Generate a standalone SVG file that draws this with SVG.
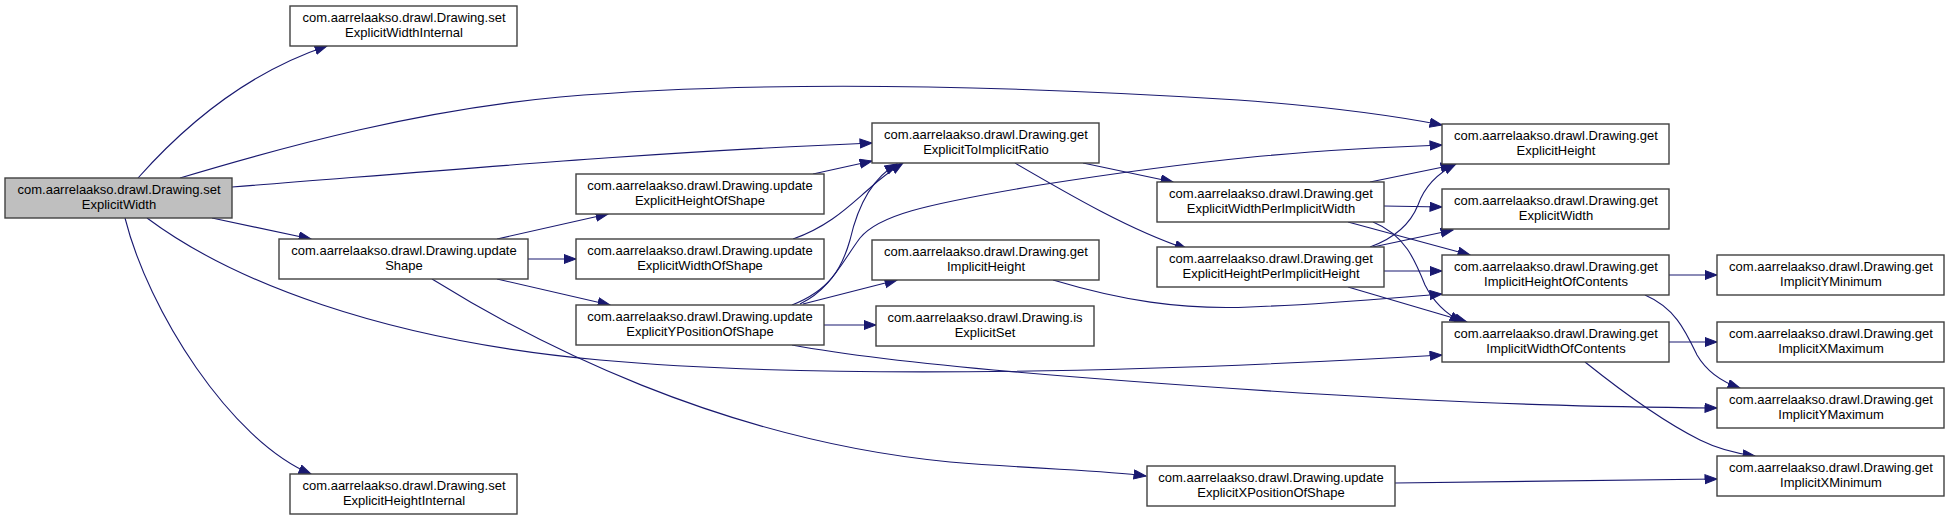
<svg xmlns="http://www.w3.org/2000/svg" width="1949" height="520" viewBox="0 0 1949 520">
<style>
.n rect{fill:#ffffff;stroke:#404040;stroke-width:1.4}
.n.root rect{fill:#bfbfbf}
.n text{font-family:"Liberation Sans",Arial,sans-serif;font-size:13px;fill:#000000;text-anchor:middle}
.e path{fill:none;stroke:#191970;stroke-width:1.1;marker-end:url(#arr)}
</style>
<defs>
<marker id="arr" markerUnits="userSpaceOnUse" markerWidth="14" markerHeight="11" refX="12.5" refY="5" orient="auto">
<path d="M0.5,0.5 L12.5,5 L0.5,9.5 z" fill="#191970" stroke="#191970" stroke-width="1"/>
</marker>
</defs>
<rect width="1949" height="520" fill="#ffffff"/>
<g id="edges" class="e">
<path d="M138,178 C178,133 240,75 327,46"/>
<path d="M180,178 C290,145 420,110 560,97 C760,80 1000,85 1238,100 C1320,106 1390,115 1442,125"/>
<path d="M232,187 C450,170 650,152 872,143"/>
<path d="M212,218 L311,239"/>
<path d="M147,218 C230,280 380,340 600,360 C800,378 1100,375 1442,355"/>
<path d="M125,218 C148,310 230,440 311,474"/>
<path d="M497,239 L608,214"/>
<path d="M528,259 L576,259"/>
<path d="M497,279 L610,305"/>
<path d="M432,279 C530,340 720,440 950,462 C1050,470 1100,470 1146,476"/>
<path d="M813,174 L872,161"/>
<path d="M793,239 C830,226 850,205 870,188 C882,177 892,170 903,163"/>
<path d="M792,305 C830,290 842,268 850,240 C858,205 872,178 897,164"/>
<path d="M800,304 C830,290 842,262 860,238 C878,216 920,205 1040,185 C1200,160 1300,150 1442,145"/>
<path d="M803,304 L897,280"/>
<path d="M824,325 L876,325"/>
<path d="M792,345 C900,365 1100,380 1300,393 C1500,405 1600,407 1717,408"/>
<path d="M1083,163 L1173,182"/>
<path d="M1015,163 C1070,195 1130,230 1187,249"/>
<path d="M1053,280 C1120,300 1180,310 1250,307 C1330,304 1390,298 1442,294"/>
<path d="M1370,182 L1453,165"/>
<path d="M1384,206 L1442,207"/>
<path d="M1348,222 L1470,255"/>
<path d="M1373,222 C1405,235 1415,260 1425,285 C1435,305 1448,315 1462,322"/>
<path d="M1370,247 C1395,238 1410,225 1418,205 C1425,185 1440,172 1456,164"/>
<path d="M1373,247 L1453,230"/>
<path d="M1384,271 L1442,271"/>
<path d="M1348,287 L1467,322"/>
<path d="M1669,275 L1717,275"/>
<path d="M1645,295 C1675,308 1685,330 1697,355 C1707,372 1722,382 1740,388"/>
<path d="M1669,342 L1717,342"/>
<path d="M1585,362 C1620,390 1660,420 1700,440 C1720,450 1740,454 1755,456"/>
<path d="M1395,483 L1717,479"/>
</g>
<g id="setExplicitWidth" class="n root"><rect x="5" y="178" width="227" height="40"/><text x="119" y="194">com.aarrelaakso.drawl.Drawing.set</text><text x="119" y="209">ExplicitWidth</text></g>
<g id="setExplicitWidthInternal" class="n"><rect x="290" y="6" width="227" height="40"/><text x="404" y="22">com.aarrelaakso.drawl.Drawing.set</text><text x="404" y="37">ExplicitWidthInternal</text></g>
<g id="updateShape" class="n"><rect x="279" y="239" width="249" height="40"/><text x="404" y="255">com.aarrelaakso.drawl.Drawing.update</text><text x="404" y="270">Shape</text></g>
<g id="setExplicitHeightInternal" class="n"><rect x="290" y="474" width="227" height="40"/><text x="404" y="490">com.aarrelaakso.drawl.Drawing.set</text><text x="404" y="505">ExplicitHeightInternal</text></g>
<g id="updateExplicitHeightOfShape" class="n"><rect x="576" y="174" width="248" height="40"/><text x="700" y="190">com.aarrelaakso.drawl.Drawing.update</text><text x="700" y="205">ExplicitHeightOfShape</text></g>
<g id="updateExplicitWidthOfShape" class="n"><rect x="576" y="239" width="248" height="40"/><text x="700" y="255">com.aarrelaakso.drawl.Drawing.update</text><text x="700" y="270">ExplicitWidthOfShape</text></g>
<g id="updateExplicitYPositionOfShape" class="n"><rect x="576" y="305" width="248" height="40"/><text x="700" y="321">com.aarrelaakso.drawl.Drawing.update</text><text x="700" y="336">ExplicitYPositionOfShape</text></g>
<g id="getExplicitToImplicitRatio" class="n"><rect x="872" y="123" width="227" height="40"/><text x="986" y="139">com.aarrelaakso.drawl.Drawing.get</text><text x="986" y="154">ExplicitToImplicitRatio</text></g>
<g id="getImplicitHeight" class="n"><rect x="872" y="240" width="227" height="40"/><text x="986" y="256">com.aarrelaakso.drawl.Drawing.get</text><text x="986" y="271">ImplicitHeight</text></g>
<g id="isExplicitSet" class="n"><rect x="876" y="306" width="218" height="40"/><text x="985" y="322">com.aarrelaakso.drawl.Drawing.is</text><text x="985" y="337">ExplicitSet</text></g>
<g id="updateExplicitXPositionOfShape" class="n"><rect x="1147" y="466" width="248" height="40"/><text x="1271" y="482">com.aarrelaakso.drawl.Drawing.update</text><text x="1271" y="497">ExplicitXPositionOfShape</text></g>
<g id="getExplicitWidthPerImplicitWidth" class="n"><rect x="1157" y="182" width="227" height="40"/><text x="1271" y="198">com.aarrelaakso.drawl.Drawing.get</text><text x="1271" y="213">ExplicitWidthPerImplicitWidth</text></g>
<g id="getExplicitHeightPerImplicitHeight" class="n"><rect x="1157" y="247" width="227" height="40"/><text x="1271" y="263">com.aarrelaakso.drawl.Drawing.get</text><text x="1271" y="278">ExplicitHeightPerImplicitHeight</text></g>
<g id="getExplicitHeight" class="n"><rect x="1442" y="124" width="227" height="40"/><text x="1556" y="140">com.aarrelaakso.drawl.Drawing.get</text><text x="1556" y="155">ExplicitHeight</text></g>
<g id="getExplicitWidth" class="n"><rect x="1442" y="189" width="227" height="40"/><text x="1556" y="205">com.aarrelaakso.drawl.Drawing.get</text><text x="1556" y="220">ExplicitWidth</text></g>
<g id="getImplicitHeightOfContents" class="n"><rect x="1442" y="255" width="227" height="40"/><text x="1556" y="271">com.aarrelaakso.drawl.Drawing.get</text><text x="1556" y="286">ImplicitHeightOfContents</text></g>
<g id="getImplicitWidthOfContents" class="n"><rect x="1442" y="322" width="227" height="40"/><text x="1556" y="338">com.aarrelaakso.drawl.Drawing.get</text><text x="1556" y="353">ImplicitWidthOfContents</text></g>
<g id="getImplicitYMinimum" class="n"><rect x="1717" y="255" width="227" height="40"/><text x="1831" y="271">com.aarrelaakso.drawl.Drawing.get</text><text x="1831" y="286">ImplicitYMinimum</text></g>
<g id="getImplicitXMaximum" class="n"><rect x="1717" y="322" width="227" height="40"/><text x="1831" y="338">com.aarrelaakso.drawl.Drawing.get</text><text x="1831" y="353">ImplicitXMaximum</text></g>
<g id="getImplicitYMaximum" class="n"><rect x="1717" y="388" width="227" height="40"/><text x="1831" y="404">com.aarrelaakso.drawl.Drawing.get</text><text x="1831" y="419">ImplicitYMaximum</text></g>
<g id="getImplicitXMinimum" class="n"><rect x="1717" y="456" width="227" height="40"/><text x="1831" y="472">com.aarrelaakso.drawl.Drawing.get</text><text x="1831" y="487">ImplicitXMinimum</text></g>
</svg>
